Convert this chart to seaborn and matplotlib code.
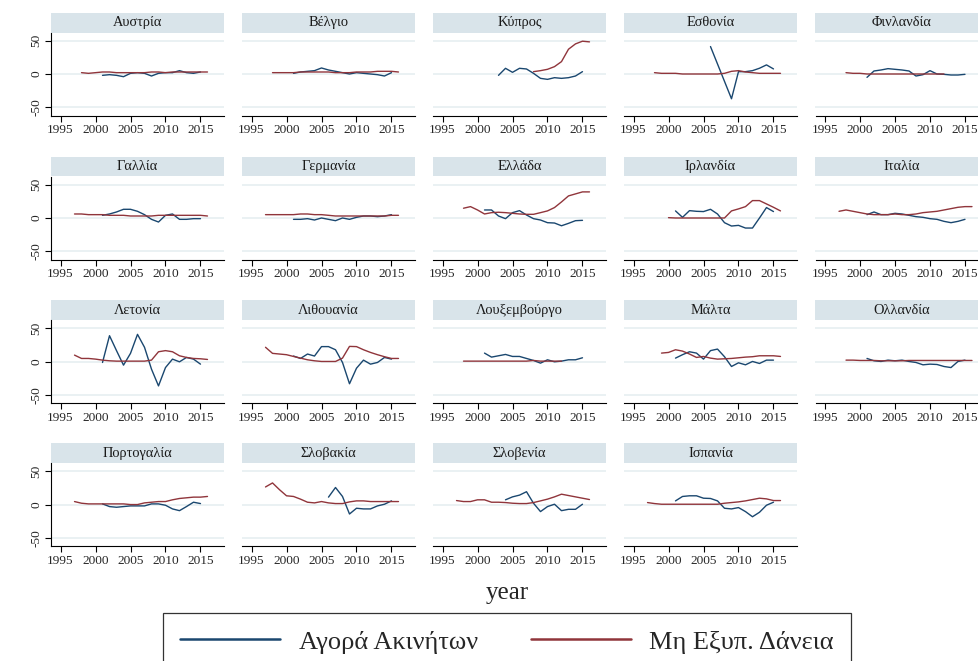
import numpy as np
import pandas as pd
import matplotlib
matplotlib.use("Agg")
import matplotlib.pyplot as plt
from matplotlib.lines import Line2D
import seaborn as sns

N = np.nan
years = list(range(1997, 2017))

# Annual % change of house prices (blue) and non-performing loans ratio (red), 1997-2016
austria_prices = [N, N, N, N, -2, -1, -2, -4, 1, 2, 1, -3, 1, 2, 2, 5, 2, 1, 3, N]
austria_npl = [N, 2, 1, 2, 3, 3, 2, 2, 2, 2, 2, 3, 3, 2, 3, 3, 3, 3, 3, 3]
belgium_prices = [N, N, N, N, 1, 3, 4, 5, 9, 6, 4, 2, 0, 2, 1, 0, -1, -3, 2, N]
belgium_npl = [N, 2, 2, 2, 2, 3, 3, 3, 3, 3, 2, 2, 2, 3, 3, 3, 4, 4, 4, 3]
cyprus_prices = [N, N, N, N, N, N, -2, 8.5, 2.5, 8.5, 7.5, 1, -6.5, -8, -5.5, -6.5, -5.5, -3, 3.5, N]
cyprus_npl = [N, N, N, N, N, N, N, N, N, N, N, 3.5, 5, 7, 11, 18.5, 37, 45, 49, 48]
estonia_prices = [N, N, N, N, N, N, N, N, N, 41, 15, -11, -37, 3.5, 3.5, 5, 8.6, 13.6, 7.6, N]
estonia_npl = [N, 2, 1, 1, 1, 0, 0, 0, 0, 0, 0, 1, 4, 5, 3, 2, 1, 1, 1, 1]
finland_prices = [N, N, N, N, -5, 4.5, 6, 8, 7, 6, 4.5, -3, -1, 5, 0, -0.5, -1.5, -1.5, -0.5, N]
finland_npl = [N, 2, 1, 1, 0, 0, 0, 0, 0, 0, 0, 0, 0, 0, 0, 0, N, N, N, N]
france_prices = [N, N, N, N, 4, 6, 9, 13, 13, 10, 5, -2, -6, 4, 6, -2, -2, -1, -1, N]
france_npl = [6, 6, 5, 5, 5, 4, 4, 4, 3, 3, 3, 3, 4, 4, 4, 4, 4, 4, 4, 3]
germany_prices = [N, N, N, N, -2, -2, -1, -3, 0, -2, -4, 0, -2, 1, 3, 3, 2, 3, 5, N]
germany_npl = [5, 5, 5, 5, 5, 6, 6, 5, 5, 4, 3, 3, 3, 3, 3, 3, 3, 3, 4, 4]
greece_prices = [N, N, N, N, 12, 12, 3, -1, 8, 11, 4.5, -1, -3, -7, -7.5, -11.6, -8, -4, -3.5, N]
greece_npl = [N, 14.6, 17, 12, 6, 8, 8.6, 8, 7, 6, 5.5, 5.5, 8, 10.6, 15.6, 24, 33, 36, 39, 39]
ireland_prices = [N, N, N, N, 10.6, 1, 11, 10, 9.6, 13, 6, -7, -12, -11, -15, -15, 0, 15.6, 9.6, N]
ireland_npl = [N, N, N, 0.5, 0, 0, 0, 0, 0, 0, 0, 0, 10.6, 13.6, 17, 26, 26, 21, 16, 10.6]
italy_prices = [N, N, N, N, 5, 9, 5, 5, 7, 6, 4, 2, 1, -1, -2, -5, -7, -5, -2, N]
italy_npl = [10, 12, 10, 8, 6, 5, 5, 5, 6, 5, 5, 6, 8, 9, 10, 12, 14, 16, 17, 17]
latvia_prices = [N, N, N, N, -1, 39, 16.7, -5, 12.6, 41, 21.7, -11, -36, -8.6, 4, 0, 6.5, 4, -3.5, N]
latvia_npl = [10, 5, 5, 4, 2.5, 1.5, 1, 1, 1, 1, 1, 2.5, 15, 16.7, 15, 9, 6.5, 5, 4.5, 3.5]
lithuania_prices = [N, N, N, N, 8.6, 5, 11.6, 8.6, 22.7, 22.7, 18, -1, -32.8, -9.6, 2.5, -3.5, -1, 6.5, 4, N]
lithuania_npl = [21.7, 12.6, 11.6, 10.6, 8, 5.5, 3, 1.5, 0.5, 0.5, 0.5, 5.5, 23, 22.7, 18, 14, 10.6, 7.6, 5, 5]
luxembourg_prices = [N, N, N, N, 13, 7, 9, 11, 8, 8, 5, 2, -2, 3, 0, 1, 3, 3, 6, N]
luxembourg_npl = [N, 1, 1, 1, 1, 1, 1, 1, 1, 1, 1, 2, 1, 1, 1, 1, N, N, N, N]
malta_prices = [N, N, N, N, 5.5, 10.6, 15, 13, 4, 16.7, 19, 7.6, -7, -1.5, -4.5, 0.5, -2.5, 2.5, 2.5, N]
malta_npl = [N, N, 13, 14, 18, 16, 11.6, 6.5, 8, 5.5, 4, 4.5, 5, 6, 7, 7.6, 9, 9, 9, 8]
netherlands_prices = [N, N, N, N, 5, 1.5, 0.5, 2.5, 1.5, 2.5, 0.5, -1, -4.5, -3.5, -4, -7, -8.6, 0.5, 2.5, N]
netherlands_npl = [N, 2.5, 2.5, 2, 2, 2, 1.5, 1.5, 1.5, 1.5, 2, 2, 2, 2, 2, 2, 2, 2, 2, 2]
portugal_prices = [N, N, N, N, 1.5, -2.5, -3.5, -2.5, -1.5, -1.5, -1.5, 1.5, 1.5, -0.5, -6, -8.6, -2.5, 4, 2, N]
portugal_npl = [5, 2.5, 1.5, 1.5, 1.5, 1.5, 1.5, 1.5, 0.5, 0.5, 3, 4, 5, 5, 7.6, 9.6, 10.6, 11.6, 11.6, 12.6]
slovakia_prices = [N, N, N, N, N, N, N, N, N, 11.6, 26, 12.6, -13.6, -5, -6, -6, -1.5, 1, 6, N]
slovakia_npl = [26.8, 32.8, 22.7, 13.6, 12.6, 8.6, 4, 3, 5, 3, 2, 2, 4.5, 6, 6, 5, 5, 5, 5, 5]
slovenia_prices = [N, N, N, N, N, N, N, 7.6, 12, 14.6, 19.7, 2.5, -10, -2.5, 1, -8.6, -6.6, -6.6, 1, N]
slovenia_npl = [6.5, 5, 5, 7.6, 7.6, 4, 4, 3.5, 2.5, 2, 2, 3.5, 6, 8.6, 12, 16, 14, 12, 10, 8]
spain_prices = [N, N, N, N, 6, 12.6, 13.6, 13.6, 10, 9.6, 6, -5, -6, -4, -10, -17.7, -11, -0.5, 4, N]
spain_npl = [3.5, 2, 1, 1, 1, 1, 1, 1, 1, 1, 1, 2.5, 3.5, 4.5, 6, 8, 10, 9, 6.5, 6.5]

countries = ["Αυστρία", "Βέλγιο", "Κύπρος", "Εσθονία", "Φινλανδία",
             "Γαλλία", "Γερμανία", "Ελλάδα", "Ιρλανδία", "Ιταλία",
             "Λετονία", "Λιθουανία", "Λουξεμβούργο", "Μάλτα", "Ολλανδία",
             "Πορτογαλία", "Σλοβακία", "Σλοβενία", "Ισπανία"]
prices = [austria_prices, belgium_prices, cyprus_prices, estonia_prices, finland_prices,
          france_prices, germany_prices, greece_prices, ireland_prices, italy_prices,
          latvia_prices, lithuania_prices, luxembourg_prices, malta_prices, netherlands_prices,
          portugal_prices, slovakia_prices, slovenia_prices, spain_prices]
npls = [austria_npl, belgium_npl, cyprus_npl, estonia_npl, finland_npl,
        france_npl, germany_npl, greece_npl, ireland_npl, italy_npl,
        latvia_npl, lithuania_npl, luxembourg_npl, malta_npl, netherlands_npl,
        portugal_npl, slovakia_npl, slovenia_npl, spain_npl]

series_names = ["Αγορά Ακινήτων", "Μη Εξυπ. Δάνεια"]
series_colors = ["#1a476f", "#90353b"]

rows = []
for c, p, q in zip(countries, prices, npls):
    for y, v1, v2 in zip(years, p, q):
        rows.append((c, y, series_names[0], v1))
        rows.append((c, y, series_names[1], v2))
df = pd.DataFrame(rows, columns=["country", "year", "series", "value"]).dropna()

sns.set_theme(style="white")
plt.rcParams["font.family"] = ["Liberation Serif", "DejaVu Serif"]

W, H = 979, 661
fig = plt.figure(figsize=(W / 100, H / 100), dpi=100)
fig.patch.set_facecolor("white")

col_left = [51, 242, 433, 624, 815.5]
row_top = [12.5, 156.5, 300.3, 443.4]
panel_w = 173
strip_h = 20
plot_h = 83
strip_color = "#d9e4ea"
grid_color = "#e8f0f2"
tick_fs = 9.6

def frac(x, y, w, h):
    return [x / W, 1 - (y + h) / H, w / W, h / H]

for i, country in enumerate(countries):
    r, c = divmod(i, 5)
    x0 = col_left[c]
    y0 = row_top[r]
    sax = fig.add_axes(frac(x0, y0, panel_w, strip_h))
    sax.set_facecolor(strip_color)
    for s in sax.spines.values():
        s.set_visible(False)
    sax.set_xticks([])
    sax.set_yticks([])
    sax.text(0.5, 0.48, country, ha="center", va="center", fontsize=10.4, color="#1a1a1a",
             transform=sax.transAxes)

    ax = fig.add_axes(frac(x0, y0 + strip_h, panel_w, plot_h))
    ax.set_facecolor("white")
    for yv in (-50, 0, 50):
        ax.axhline(yv, color=grid_color, lw=1.3, zorder=0)
    sub = df[df["country"] == country]
    sns.lineplot(data=sub, x="year", y="value", hue="series", hue_order=series_names,
                 palette=series_colors, estimator=None, linewidth=1.0, legend=False, ax=ax)
    ax.set_xlim(1993.64, 2018.36)
    ax.set_ylim(-62, 62)
    ax.set_xlabel("")
    ax.set_ylabel("")
    ax.set_xticks([1995, 2000, 2005, 2010, 2015])
    ax.tick_params(axis="x", direction="out", length=4, width=0.8, color="black",
                   labelsize=tick_fs, pad=2, bottom=True)
    ax.spines["top"].set_visible(False)
    ax.spines["right"].set_visible(False)
    ax.spines["bottom"].set_color("black")
    ax.spines["bottom"].set_linewidth(0.8)
    if c == 0:
        ax.spines["left"].set_color("black")
        ax.spines["left"].set_linewidth(0.8)
        ax.set_yticks([-50, 0, 50])
        ax.set_yticklabels(["-50", "0", "50"], rotation=90, va="center")
        ax.tick_params(axis="y", direction="out", length=4, width=0.8, color="black",
                       labelsize=tick_fs, pad=2, left=True)
    else:
        ax.spines["left"].set_visible(False)
        ax.set_yticks([])
    ax.grid(False)

fig.text(507 / W, 1 - 593 / H, "year", ha="center", va="center", fontsize=18)

handles = [Line2D([0], [0], color=col, lw=1.8) for col in series_colors]
leg = fig.legend(handles, series_names, loc="upper center", ncol=2,
                 bbox_to_anchor=(507 / W, 1 - 613 / H), fontsize=19, frameon=True,
                 fancybox=False, edgecolor="black", handlelength=3.8, handletextpad=0.7,
                 columnspacing=2.0, borderpad=0.65, borderaxespad=0)
leg.get_frame().set_linewidth(0.9)

fig.savefig("out.png", dpi=100, facecolor="white")
